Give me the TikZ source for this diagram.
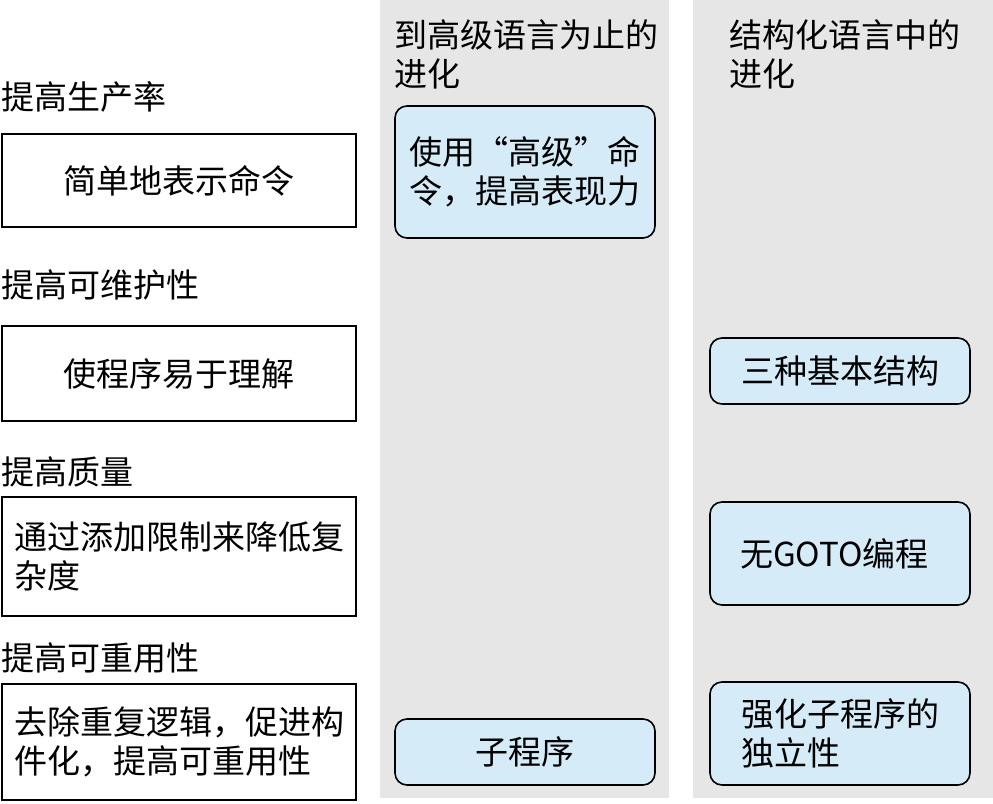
\documentclass[tikz,border=0pt]{standalone}
\usepackage{fontspec}
\setmainfont{Noto Sans CJK SC}
\definecolor{colgray}{HTML}{E6E6E6}
\definecolor{lightblue}{HTML}{D5EBF8}
\begin{document}
\begin{tikzpicture}[x=1pt,y=-1pt,
  txt/.style={font=\fontsize{33}{39}\selectfont},
  heading/.style={txt, anchor=west, inner sep=0pt},
  plainbox/.style={txt, draw=black, line width=1.6pt, fill=white, inner sep=0pt, minimum width=354pt},
  bluebox/.style={txt, draw=black, line width=1.6pt, fill=lightblue, rounded corners=12pt, inner sep=0pt, minimum width=260pt}
]
\useasboundingbox (0,0) rectangle (993,803);
\fill[colgray] (380,0) rectangle (669,798);
\fill[colgray] (693,0) rectangle (993,798);

% column titles
\node[txt, anchor=north west, inner sep=0pt, align=left] (t1) at (394,19) {到高级语言为止的\\进化};
\node[txt, anchor=north west, inner sep=0pt, align=left] (t2) at (729,19) {结构化语言中的\\进化};

% left headings and boxes
\node[heading] (h1) at (1,97) {提高生产率};
\node[plainbox, minimum height=93pt] (b1) at (179,180.5) {简单地表示命令};
\node[heading] (h2) at (1,285) {提高可维护性};
\node[plainbox, minimum height=95pt] (b2) at (179,373.5) {使程序易于理解};
\node[heading] (h3) at (1,472) {提高质量};
\node[plainbox, minimum height=119pt, text width=330pt, align=left] (b3) at (179,556.5) {通过添加限制来降低复\\杂度};
\node[heading] (h4) at (1,658) {提高可重用性};
\node[plainbox, minimum height=116pt, text width=330pt, align=left] (b4) at (179,742) {去除重复逻辑，促进构\\件化，提高可重用性};

% middle column
\node[bluebox, minimum height=132pt, text width=231pt, align=left] (ba) at (525,172) {使用“高级”命\\令，提高表现力};
\node[bluebox, minimum height=66pt] (bb) at (525,752) {子程序};

% right column
\node[bluebox, minimum height=66pt] (bc) at (840,371) {三种基本结构};
\node[bluebox, minimum height=103pt, text width=200pt, align=left] (bd) at (840,553.5) {无GOTO编程};
\node[bluebox, minimum height=103pt, text width=198pt, align=left] (be) at (840,733.5) {强化子程序的\\独立性};
\end{tikzpicture}
\end{document}
